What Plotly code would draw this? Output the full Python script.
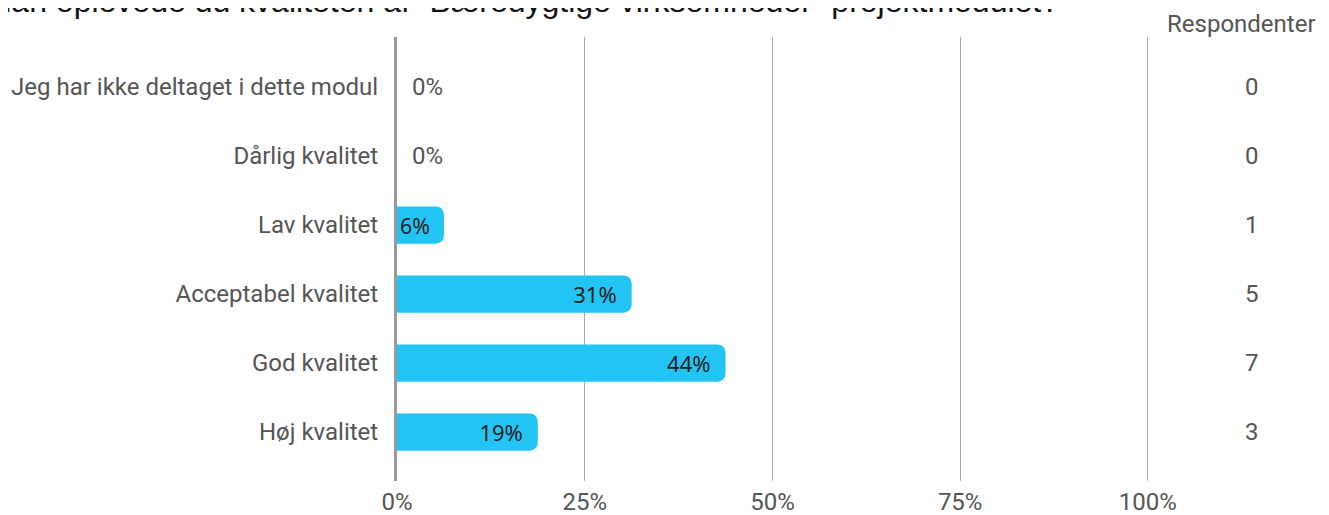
import plotly.graph_objects as go

categories = ["Jeg har ikke deltaget i dette modul", "Dårlig kvalitet", "Lav kvalitet",
              "Acceptabel kvalitet", "God kvalitet", "Høj kvalitet"]
percent = [0, 0, 6.25, 31.25, 43.75, 18.75]
labels = ["0%", "0%", "6%", "31%", "44%", "19%"]
respondents = [0, 0, 1, 5, 7, 3]
x_ticks = [0, 25, 50, 75, 100]
x_tick_labels = ["0%", "25%", "50%", "75%", "100%"]
title = "Hvordan oplevede du kvaliteten af \u201cBæredygtige virksomheder\u201d projektmodulet?"

pos = list(range(len(categories)))
text = [("\u00a0\u00a0" + l) if p == 0 else (l + "\u00a0\u2009") for l, p in zip(labels, percent)]
textpos = ["outside" if p == 0 else "inside" for p in percent]

fig = go.Figure()
fig.add_trace(go.Bar(
    y=pos, x=percent, orientation="h",
    marker=dict(color="#22c4f4", line=dict(width=0)),
    text=text, textposition=textpos, insidetextanchor="end", constraintext="none",
    insidetextfont=dict(family="Noto Sans", size=22, color="#222222"),
    outsidetextfont=dict(family="Roboto", size=24, color="#555555"),
    cliponaxis=False, hoverinfo="skip",
))

annotations = [dict(xref="paper", yref="paper", x=1.225, y=1.0, xanchor="right", yanchor="bottom",
                    yshift=-3, text="Respondenter", showarrow=False,
                    font=dict(family="Roboto", size=24, color="#555555"))]
for p, r in zip(pos, respondents):
    annotations.append(dict(xref="paper", yref="y", x=1.137, y=p, xanchor="center", text=str(r),
                            showarrow=False, font=dict(family="Roboto", size=24, color="#555555")))
annotations.append(dict(xref="paper", yref="paper", x=0.883, y=1.036, xanchor="right",
                        yanchor="bottom", text=title, showarrow=False,
                        font=dict(family="Liberation Sans", size=32, color="#111111")))

fig.update_layout(
    width=1321, height=507,
    margin=dict(l=389, r=180, t=29, b=34, autoexpand=False),
    paper_bgcolor="white", plot_bgcolor="white",
    bargap=0.46, barcornerradius=8,
    showlegend=False,
    annotations=annotations,
    font=dict(family="Roboto", size=24, color="#555555"),
    xaxis=dict(range=[0, 100.15], tickvals=x_ticks, ticktext=x_tick_labels,
               showgrid=True, gridcolor="#aaaaaa", gridwidth=1, automargin=False,
               zeroline=False, showline=False, ticks="", ticklabelstandoff=4,
               tickfont=dict(family="Roboto", size=24, color="#555555"), fixedrange=True),
    yaxis=dict(range=[5.71, -0.725], tickvals=pos, ticktext=categories, automargin=False,
               showgrid=False, zeroline=False, showline=True, linecolor="#999999", linewidth=3,
               ticks="", ticklabelstandoff=11,
               tickfont=dict(family="Roboto", size=24, color="#555555"), fixedrange=True),
)
fig.write_html("out.html")
